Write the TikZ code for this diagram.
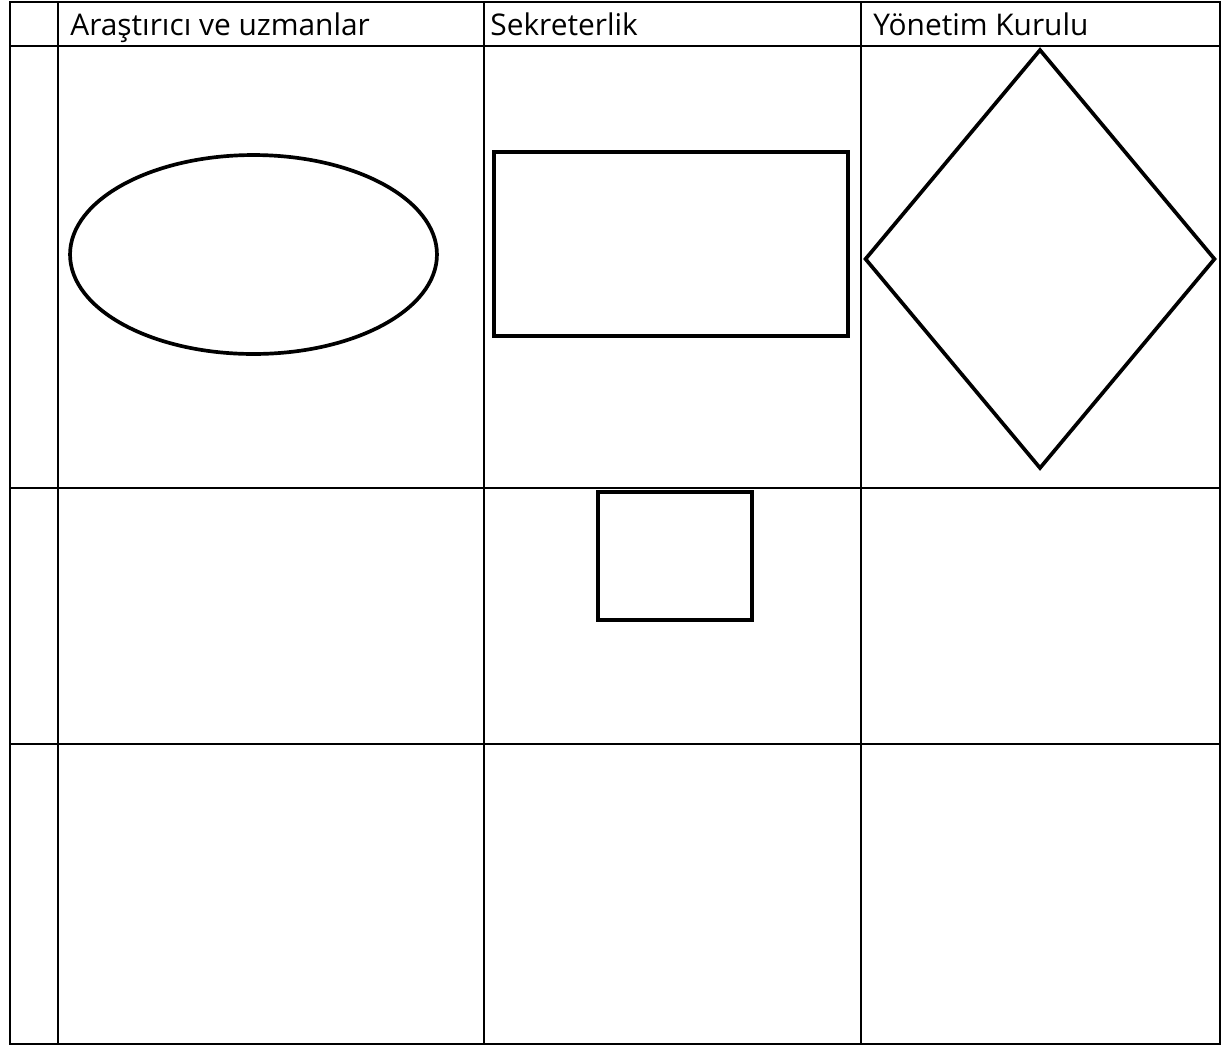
\documentclass[tikz,border=0pt]{standalone}
\usepackage{fontspec}
\setmainfont{Open Sans}
\usepackage{tikz}
\usetikzlibrary{shapes.geometric,positioning}

\begin{document}
\begin{tikzpicture}[
  x=0.02cm,y=-0.02cm,
  grid/.style={line width=1.3pt},
  shp/.style={draw,line width=2.1pt,inner sep=0pt,outer sep=0pt},
  head/.style={anchor=base west,inner sep=0pt,font=\fontsize{17}{20}\selectfont}
]
\useasboundingbox (0,0) rectangle (1226,1046);

% table lines
\draw[grid] (10,2) rectangle (1220,1044);
\foreach \xc in {58,484,861} \draw[grid] (\xc,2) -- (\xc,1044);
\foreach \yc in {46,488,744} \draw[grid] (10,\yc) -- (1220,\yc);

% header
\node[head] (h1) at (70,35)  {Araştırıcı ve uzmanlar};
\node[head] (h2) at (490,35) {Sekreterlik};
\node[head] (h3) at (873,35) {Yönetim Kurulu};

% shapes
\node[shp,ellipse,minimum width=7.34cm,minimum height=3.98cm] (oval) at (253.5,254.5) {};
\node[shp,rectangle,minimum width=7.08cm,minimum height=3.68cm] (rect) at (671,244) {};
\node[shp,diamond,minimum width=6.98cm,minimum height=8.36cm] (dia) at (1040,259) {};
\node[shp,rectangle,minimum width=3.08cm,minimum height=2.56cm] (small) at (675,556) {};
\end{tikzpicture}
\end{document}
